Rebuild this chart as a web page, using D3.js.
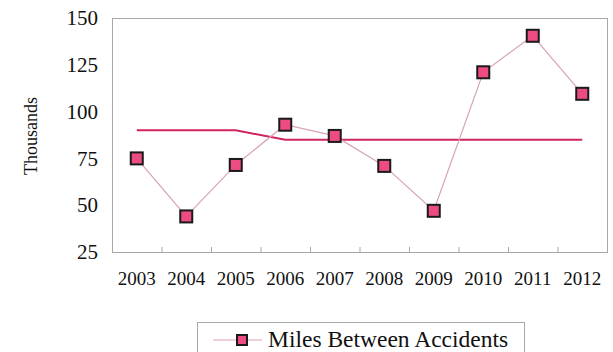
<!DOCTYPE html>
<html>
<head>
<meta charset="utf-8">
<script src="https://cdn.jsdelivr.net/npm/d3@7/dist/d3.min.js"></script>
<style>
  html, body { margin: 0; padding: 0; background: #fff; }
  svg { display: block; }
</style>
</head>
<body>
<svg id="chart" width="613" height="352"></svg>
<script>
// Years on the x axis
const years = ["2003", "2004", "2005", "2006", "2007", "2008", "2009", "2010", "2011", "2012"];
// Miles between accidents, in thousands
const milesBetween = [75, 44, 71.5, 93, 87, 71, 47, 121, 140.5, 109.5];
// Goal line, in thousands
const goal = [90, 90, 90, 85, 85, 85, 85, 85, 85, 85];
// Y axis ticks
const yTicks = [25, 50, 75, 100, 125, 150];
const seriesName = "Miles Between Accidents";

const FONT = "'Liberation Serif', 'Times New Roman', serif";
const svg = d3.select("#chart");
const plot = { left: 112, right: 607, top: 18, bottom: 252 };

const x = d3.scaleBand().domain(years).range([plot.left, plot.right]).padding(0);
const y = d3.scaleLinear().domain([25, 150]).range([plot.bottom, plot.top]);
const cx = d => x(d) + x.bandwidth() / 2;

// Plot frame
svg.append("rect")
  .attr("x", plot.left + 0.5).attr("y", plot.top + 0.5)
  .attr("width", plot.right - plot.left).attr("height", plot.bottom - plot.top)
  .attr("fill", "#fff").attr("stroke", "#a8a8a8").attr("stroke-width", 1);

// Y axis labels
const yAxis = d3.axisLeft(y).tickValues(yTicks).tickSize(0).tickPadding(14);
svg.append("g").attr("transform", `translate(${plot.left},0)`).call(yAxis)
  .call(g => g.select(".domain").remove())
  .call(g => g.selectAll("text").style("font-size", "21px").style("font-family", FONT).attr("fill", "#111"));

// X axis: tick marks between categories, labels centred on each band
const xAxis = d3.axisBottom(x).tickSize(0).tickPadding(20);
svg.append("g").attr("transform", `translate(0,${plot.bottom})`).call(xAxis)
  .call(g => g.select(".domain").remove())
  .call(g => g.selectAll("text").style("font-size", "19px").style("font-family", FONT).attr("fill", "#111"));

svg.append("g").selectAll("line").data(years.slice(1)).join("line")
  .attr("x1", d => x(d) + 0.5).attr("x2", d => x(d) + 0.5)
  .attr("y1", plot.bottom).attr("y2", plot.bottom - 5)
  .attr("stroke", "#a8a8a8").attr("stroke-width", 1);

// Y axis title
svg.append("text")
  .attr("transform", `translate(37,${(plot.top + plot.bottom) / 2 + 1}) rotate(-90)`)
  .attr("text-anchor", "middle")
  .style("font-size", "18px").style("font-family", FONT).attr("fill", "#111")
  .text("Thousands");

// Goal line
const goalLine = d3.line().x((d, i) => cx(years[i])).y(d => y(d));
svg.append("path").datum(goal)
  .attr("d", goalLine).attr("fill", "none")
  .attr("stroke", "#d2245c").attr("stroke-width", 2);

// Series line
const seriesLine = d3.line().x((d, i) => cx(years[i])).y(d => y(d));
svg.append("path").datum(milesBetween)
  .attr("d", seriesLine).attr("fill", "none")
  .attr("stroke", "#d8a3b2").attr("stroke-width", 1.2);

// Markers
const ms = 12;
svg.append("g").selectAll("rect").data(milesBetween).join("rect")
  .attr("x", (d, i) => cx(years[i]) - ms / 2)
  .attr("y", d => y(d) - ms / 2)
  .attr("width", ms).attr("height", ms)
  .attr("fill", "#ec4c83").attr("stroke", "#1a1a1a").attr("stroke-width", 2);

// Legend
const lg = svg.append("g");
lg.append("rect").attr("x", 197.5).attr("y", 322.5).attr("width", 327).attr("height", 40)
  .attr("fill", "#fff").attr("stroke", "#a8a8a8").attr("stroke-width", 1);
lg.append("line").attr("x1", 213).attr("x2", 262).attr("y1", 340).attr("y2", 340)
  .attr("stroke", "#e0a0b4").attr("stroke-width", 1.2);
lg.append("rect").attr("x", 237).attr("y", 335).attr("width", 10).attr("height", 10)
  .attr("fill", "#ec4c83").attr("stroke", "#1a1a1a").attr("stroke-width", 2);
lg.append("text").attr("x", 268).attr("y", 347)
  .style("font-size", "23.5px").style("font-family", FONT).attr("fill", "#111")
  .text(seriesName);
</script>
</body>
</html>
